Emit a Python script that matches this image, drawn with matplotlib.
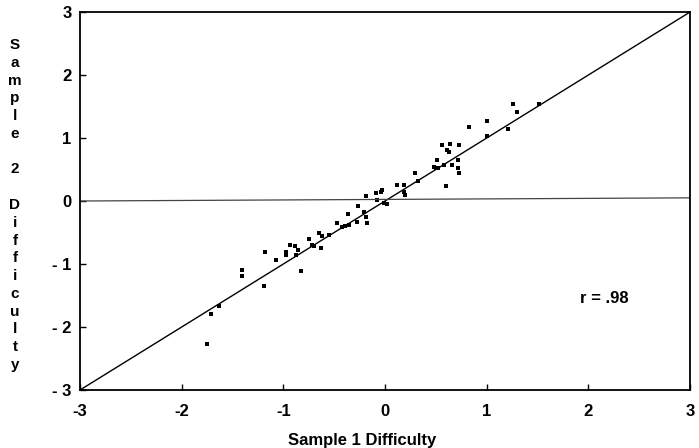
import matplotlib
matplotlib.use("Agg")
import matplotlib.pyplot as plt

# difficulty estimates
sample1 = [-1.75, -1.71, -1.63, -1.41, -1.41, -1.19, -1.18, -1.07, -0.97, -0.97,
           -0.93, -0.89, -0.88, -0.86, -0.83, -0.75, -0.70, -0.63, -0.65, -0.55,
           -0.62, -0.47, -0.42, -0.39, -0.36, -0.27, -0.28, -0.21, -0.19, -0.18,
           -0.19, -0.09, -0.04, -0.08, -0.01, 0.02, -0.03, 0.12, 0.19, 0.19,
           0.20, 0.29, 0.32, 0.48, 0.50, 0.52, 0.51, 0.56, 0.61, 0.64,
           0.63, 0.73, 0.58, 0.66, 0.72, 0.72, 0.73, 0.60, 1.00, 0.83,
           1.00, 1.21, 1.26, 1.30, 1.51, -0.72, -0.35]
sample2 = [-2.27, -1.79, -1.67, -1.10, -1.19, -1.35, -0.81, -0.93, -0.81, -0.86,
           -0.70, -0.72, -0.86, -0.78, -1.11, -0.61, -0.72, -0.74, -0.51, -0.54,
           -0.56, -0.35, -0.41, -0.40, -0.20, -0.08, -0.34, -0.17, -0.25, -0.35,
           0.08, 0.12, 0.15, 0.02, -0.03, -0.05, 0.17, 0.25, 0.25, 0.15,
           0.10, 0.44, 0.31, 0.54, 0.52, 0.52, 0.65, 0.89, 0.81, 0.90,
           0.78, 0.89, 0.57, 0.57, 0.65, 0.52, 0.44, 0.24, 1.03, 1.18,
           1.27, 1.14, 1.54, 1.42, 1.54, -0.70, -0.38]

# the near-horizontal reference line drifts a little upward across the scan
hline_x = [-3, 3]
hline_y = [0.0, 0.05]

ticks = [-3, -2, -1, 0, 1, 2, 3]
xtick_labels = ["-3", "-2", "-1", "0", "1", "2", "3"]
ytick_labels = ["- 3", "- 2", "- 1", "0", "1", "2", "3"]
ylabel_letters = list("Sample") + ["", "2", ""] + list("Difficulty")

plt.rcParams['font.family'] = ['Liberation Sans', 'DejaVu Sans']
plt.rcParams['font.weight'] = 'bold'

fig = plt.figure(figsize=(6.99, 4.48), dpi=100)
ax = fig.add_axes([0.1145, 0.1295, 0.8727, 0.8437])

ax.plot([-3, 3], [-3, 3], color='black', lw=1.0)
ax.plot(hline_x, hline_y, color='#444444', lw=0.9)
ax.scatter(sample1, sample2, s=12, marker='s', color='black', linewidths=0)

ax.set_xlim(-3, 3)
ax.set_ylim(-3, 3)
ax.set_xticks(ticks)
ax.set_xticklabels(xtick_labels, fontsize=12, fontweight='bold')
ax.set_yticks(ticks)
ax.set_yticklabels(ytick_labels, fontsize=12, fontweight='bold')
ax.tick_params(direction='in', length=4, width=1, pad=6)
ax.tick_params(axis='x', pad=10)
for s in ax.spines.values():
    s.set_linewidth(1.3)

ax.set_xlabel("Sample 1 Difficulty", fontsize=12, fontweight='bold')
ax.xaxis.set_label_coords(0.462, -0.115)
ax.text(1.92, -1.55, "r = .98", fontsize=12, fontweight='bold', va='center')

# stacked vertical y label
n = len(ylabel_letters)
top, bottom = 1 - 45 / 448, 1 - 365 / 448
for i, ch in enumerate(ylabel_letters):
    y = top - i * (top - bottom) / (n - 1)
    fig.text(15 / 699, y, ch, fontsize=11, fontweight='bold', ha='center', va='center')

fig.savefig("out.png", dpi=100)
